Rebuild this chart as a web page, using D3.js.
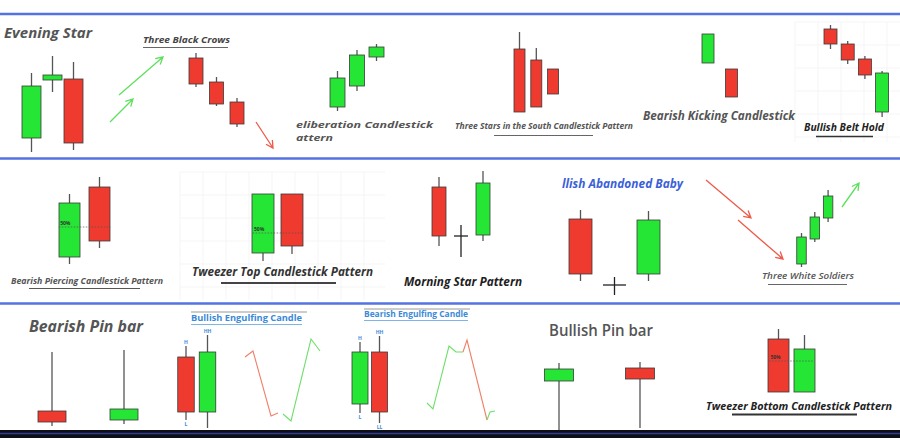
<!DOCTYPE html>
<html>
<head>
<meta charset="utf-8">
<script src="https://cdn.jsdelivr.net/npm/d3@7"></script>
<style>
  body { margin: 0; background: #fff; }
  svg { display: block; }
  text { font-family: "Open Sans", "Noto Sans", sans-serif; }
</style>
</head>
<body>
<svg id="drawing_region"></svg>
<script>
// candles: o,h,l,c as price levels (0 = bottom of each little panel)
const eveningStar   = [{o:17,h:82,l:3,c:69},{o:75,h:99,l:63,c:80},{o:76,h:93,l:5,c:12}];
const blackCrows    = [{o:72,h:77,l:43,c:46},{o:48,h:53,l:24,c:26},{o:28,h:32,l:3,c:6}];
const deliberation  = [{o:8,h:44,l:4,c:37},{o:29,h:65,l:24,c:60},{o:58,h:71,l:54,c:68}];
const starsSouth    = [{o:66,h:83,l:3,c:3},{o:55,h:67,l:8,c:8},{o:46,h:46,l:21,c:21}];
const kicking       = [{o:37,h:66,l:37,c:66},{o:31,h:31,l:3,c:3}];
const beltHold      = [{o:91,h:95,l:71,c:76},{o:76,h:79,l:56,c:60},{o:61,h:64,l:41,c:45},{o:8,h:49,l:3,c:47}];
const piercing      = [{o:13,h:76,l:6,c:67},{o:83,h:93,l:22,c:29}];
const tweezerTop    = [{o:12,h:71,l:4,c:71},{o:71,h:71,l:11,c:19}];
const morningStar   = [{o:73,h:83,l:14,c:24},{o:24,h:35,l:3,c:24},{o:25,h:89,l:19,c:77}];
const abandonedBaby = [{o:81,h:90,l:19,c:26},{o:15,h:23,l:5,c:15},{o:26,h:89,l:19,c:80}];
const whiteSoldiers = [{o:6,h:37,l:3,c:33},{o:31,h:58,l:28,c:53},{o:52,h:80,l:48,c:74}];
const bearishPin    = [{o:19,h:78,l:4,c:8},{o:10,h:80,l:6,c:21}];
const bullEngulf    = [{o:73,h:84,l:10,c:18},{o:18,h:95,l:2,c:78}];
const bearEngulf    = [{o:26,h:88,l:17,c:78},{o:78,h:94,l:7,c:18}];
const bullishPin    = [{o:51,h:69,l:2,c:63},{o:64,h:70,l:4,c:53}];
const tweezerBottom = [{o:61,h:71,l:8,c:8},{o:8,h:65,l:8,c:51}];

const bullEngulfLabels = [['H','L'],['HH','LL']];
const bearEngulfLabels = [['H','L'],['HH','LL']];

// little price paths next to the engulfing candles: [t, price]
const bullWaveDown = [[0,73],[8,79],[26,14],[33,17]];
const bullWaveUp   = [[38,16],[46,9],[66,91],[75,79]];
const bearWaveUp   = [[0,27],[6,21],[22,84],[29,78],[36,78]];
const bearWaveDown = [[36,78],[40,90],[60,10]];
const bearWaveEnd  = [[60,10],[63,18],[68,19]];

const W = 900, H = 438;
const GREEN = '#25e535', RED = '#ef3b2f', EDGE = '#3a3a3a', WICK = '#555';

const svg = d3.select('#drawing_region').attr('width', W).attr('height', H);
svg.append('rect').attr('width', W).attr('height', H).attr('fill', '#fff');

// faint grids behind two of the patterns
function grid(x0, x1, y0, y1, step) {
  const g = svg.append('g').attr('stroke', '#f3f3f3').attr('stroke-width', 0.8);
  d3.range(x0, x1, step).forEach(x => g.append('line').attr('x1', x).attr('x2', x).attr('y1', y0).attr('y2', y1));
  d3.range(y0, y1, step).forEach(y => g.append('line').attr('x1', x0).attr('x2', x1).attr('y1', y).attr('y2', y));
}
grid(180, 385, 172, 300, 23);
grid(795, 900, 22, 142, 23);

function candles(data, cfg) {
  const x = d3.scaleLinear().domain([0, 1]).range([cfg.cx, cfg.cx + cfg.step]);
  const y = d3.scaleLinear().domain([0, 100]).range([cfg.base, cfg.base - 100]);
  const g = svg.append('g');
  g.selectAll('line.wick').data(data).enter().append('line')
    .attr('x1', (d, i) => x(i)).attr('x2', (d, i) => x(i))
    .attr('y1', d => y(d.h)).attr('y2', d => y(d.l))
    .attr('stroke', d => d.o === d.c ? '#222' : WICK).attr('stroke-width', 1.3);
  g.selectAll('rect').data(data.filter(d => d.o !== d.c)).enter().append('rect')
    .attr('x', d => x(data.indexOf(d)) - cfg.bw / 2)
    .attr('y', d => y(Math.max(d.o, d.c)))
    .attr('width', cfg.bw)
    .attr('height', d => y(Math.min(d.o, d.c)) - y(Math.max(d.o, d.c)))
    .attr('fill', d => d.c > d.o ? GREEN : RED)
    .attr('stroke', EDGE).attr('stroke-width', 0.8);
  g.selectAll('line.doji').data(data.filter(d => d.o === d.c)).enter().append('line')
    .attr('x1', d => x(data.indexOf(d)) - cfg.bw / 2)
    .attr('x2', d => x(data.indexOf(d)) + cfg.bw / 2)
    .attr('y1', d => y(d.o)).attr('y2', d => y(d.o))
    .attr('stroke', '#222').attr('stroke-width', 1.3);
  return {x, y, g};
}

function halfLine(sc, data, price, lbl) {
  const x0 = sc.x(0), x1 = sc.x(data.length - 1);
  sc.g.append('line')
    .attr('x1', x0 - (x1 - x0) / 2.8).attr('x2', x1 + (x1 - x0) / 2.8)
    .attr('y1', sc.y(price)).attr('y2', sc.y(price))
    .attr('stroke', '#555').attr('stroke-width', 0.7).attr('stroke-dasharray', '1.5,1.5');
  sc.g.append('text').attr('x', x0 - (x1 - x0) / 3.2).attr('y', sc.y(price) - 2)
    .attr('font-size', 5).attr('font-weight', 700).attr('fill', '#333').text(lbl);
}

candles(eveningStar,   {cx: 31.5, step: 21,   bw: 19,   base: 155});
candles(blackCrows,    {cx: 196,  step: 20.5, bw: 14,   base: 130});
candles(deliberation,  {cx: 337.5,step: 19.5, bw: 15,   base: 115});
candles(starsSouth,    {cx: 519.5,step: 16.8, bw: 11,   base: 115});
candles(kicking,       {cx: 708,  step: 23.5, bw: 12,   base: 100});
candles(beltHold,      {cx: 830.5,step: 17.2, bw: 13,   base: 120});
const pc = candles(piercing, {cx: 69.5, step: 30, bw: 21, base: 270});
halfLine(pc, piercing, 43, '50%');
const tt = candles(tweezerTop, {cx: 263, step: 29, bw: 22, base: 265});
halfLine(tt, tweezerTop, 32, '50%');
candles(morningStar,   {cx: 439,  step: 22,   bw: 14,   base: 260});
candles(abandonedBaby, {cx: 580.5,step: 34,   bw: 23,   base: 300});
candles(whiteSoldiers, {cx: 801.5,step: 13.3, bw: 9.5,  base: 270});
candles(bearishPin,    {cx: 52,   step: 72,   bw: 28,   base: 430});
const be = candles(bullEngulf, {cx: 186, step: 21.5, bw: 16.5, base: 430});
const se = candles(bearEngulf, {cx: 360, step: 19.5, bw: 16,   base: 430});
candles(bullishPin,    {cx: 559,  step: 81,   bw: 29,   base: 432});
const tb = candles(tweezerBottom, {cx: 778.5, step: 26, bw: 21, base: 400});
halfLine(tb, tweezerBottom, 39, '50%');

// H / L tags on the engulfing candles
function hlTags(sc, data, labels) {
  data.forEach((d, i) => {
    sc.g.append('text').attr('x', sc.x(i)).attr('y', sc.y(d.h) - 2).attr('text-anchor', 'middle')
      .attr('font-size', 5).attr('font-weight', 700).attr('fill', '#3a8ad8').text(labels[i][0]);
    sc.g.append('text').attr('x', sc.x(i)).attr('y', sc.y(d.l) + 6).attr('text-anchor', 'middle')
      .attr('font-size', 5).attr('font-weight', 700).attr('fill', '#3a8ad8').text(labels[i][1]);
  });
}
hlTags(be, bullEngulf, bullEngulfLabels);
hlTags(se, bearEngulf, bearEngulfLabels);

function wave(pts, x0, base, color) {
  const x = d3.scaleLinear().domain([0, 75]).range([x0, x0 + 75]);
  const y = d3.scaleLinear().domain([0, 100]).range([base, base - 100]);
  svg.append('path').datum(pts)
    .attr('d', d3.line().x(d => x(d[0])).y(d => y(d[1])))
    .attr('fill', 'none').attr('stroke', color).attr('stroke-width', 1.1);
}
wave(bullWaveDown, 245, 430, '#f0806a');
wave(bullWaveUp,   245, 430, '#6ee06a');
wave(bearWaveUp,   427, 430, '#6ee06a');
wave(bearWaveDown, 427, 430, '#f0806a');
wave(bearWaveEnd,  427, 430, '#6ee06a');

function arrow(x1, y1, x2, y2, color) {
  const a = Math.atan2(y2 - y1, x2 - x1), L = 8, s = 0.5;
  svg.append('path')
    .attr('d', `M${x1},${y1}L${x2},${y2}M${x2 - L * Math.cos(a - s)},${y2 - L * Math.sin(a - s)}L${x2},${y2}L${x2 - L * Math.cos(a + s)},${y2 - L * Math.sin(a + s)}`)
    .attr('fill', 'none').attr('stroke', color).attr('stroke-width', 1.3);
}
arrow(119, 95, 163, 57, '#5ee05e');
arrow(110, 122, 133, 99, '#5ee05e');
arrow(256, 122, 273, 148, '#ee5a4a');
arrow(706, 180, 751, 218, '#ee5a4a');
arrow(738, 220, 783, 259, '#ee5a4a');
arrow(842, 207, 859, 183, '#5ee05e');

function label(t, x, y, size, opt) {
  opt = opt || {};
  const el = svg.append('text').attr('x', x).attr('y', y)
    .attr('font-size', size)
    .attr('font-style', opt.italic === false ? 'normal' : 'italic')
    .attr('font-weight', opt.weight || 700)
    .attr('fill', opt.color || '#555')
    .text(t);
  if (opt.w) el.attr('textLength', opt.w).attr('lengthAdjust', 'spacingAndGlyphs');
}
function rule(x1, x2, y, color, w) {
  svg.append('line').attr('x1', x1).attr('x2', x2).attr('y1', y).attr('y2', y)
    .attr('stroke', color || '#555').attr('stroke-width', w || 1);
}

label('Evening Star', 4, 38, 15, {w: 88});
label('Three Black Crows', 143, 43, 9.5, {w: 87, color: '#444'});
rule(143, 228, 47.5, '#666', 1);
label('eliberation Candlestick', 296, 128, 9.5, {w: 137});
label('attern', 296, 141, 9.5, {w: 37});
label('Three Stars in the South Candlestick Pattern', 455, 129, 8.5, {w: 178});
rule(494, 593, 135.5, '#666', 1);
label('Bearish Kicking Candlestick', 643, 120, 12, {w: 152});
label('Bullish Belt Hold', 804, 131, 10, {w: 80, color: '#222'});
rule(816, 873, 136.5, '#333', 1.5);

label('Bearish Piercing Candlestick Pattern', 11, 284, 8.5, {w: 152});
rule(29, 140, 288.5, '#555', 1);
label('Tweezer Top Candlestick Pattern', 192, 276, 12, {w: 181, color: '#333'});
rule(221, 336, 283, '#444', 2);
label('Morning Star Pattern', 404, 286, 12, {w: 118, color: '#1e1e1e'});
label('llish Abandoned Baby', 562, 188, 12, {w: 121, color: '#3b5fd9'});
label('Three White Soldiers', 762, 279, 9, {w: 92, weight: 600});
rule(768, 847, 284.5, '#666', 1);

label('Bearish Pin bar', 29, 332, 16, {w: 114});
rule(191, 307, 312, '#999', 1);
label('Bullish Engulfing Candle', 191, 321, 9, {w: 111, italic: false, color: '#3a8ad8'});
rule(191, 302, 324.5, '#7fb4e6', 1);
rule(364, 470, 309, '#999', 1);
label('Bearish Engulfing Candle', 364, 317, 8.5, {w: 104, italic: false, color: '#3a8ad8'});
rule(364, 468, 320.5, '#7fb4e6', 1);
label('Bullish Pin bar', 549, 336, 16, {w: 104, italic: false, weight: 600});
label('Tweezer Bottom Candlestick Pattern', 706, 410, 11, {w: 186, color: '#222'});
rule(732, 857, 414.5, '#333', 2);

// panel separators
[14, 158.5, 303.5].forEach(y => rule(0, W, y, '#5472e2', 2.6));
svg.append('rect').attr('x', 0).attr('y', 430).attr('width', W).attr('height', 8).attr('fill', '#0e0f16');
rule(0, W, 433.5, '#2c3f92', 1.6);
</script>
</body>
</html>
